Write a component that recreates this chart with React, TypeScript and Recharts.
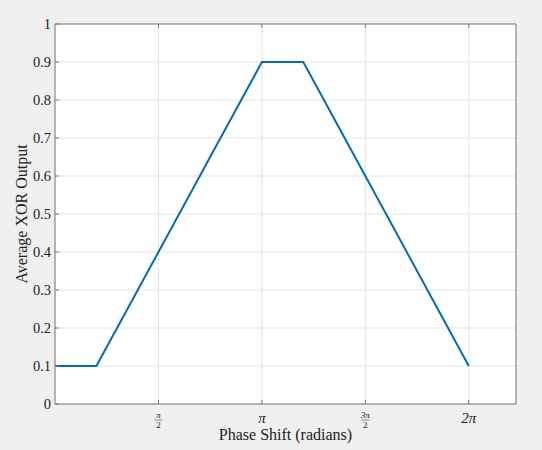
import React from 'react';
import { LineChart, Line, XAxis, YAxis, CartesianGrid } from 'recharts';

// phase shift (radians) and averaged XOR output
const phaseValues = [0, 0.628, 1.257, 1.885, 2.513, 3.142, 3.770, 4.398, 5.027, 5.655, 6.283];
const xorValues = [0.1, 0.1, 0.3, 0.5, 0.7, 0.9, 0.9, 0.7, 0.5, 0.3, 0.1];

const xTicks = [1.5708, 3.1416, 4.7124, 6.2832];
const xTickNum = ['π', 'π', '3π', '2π'];
const xTickDen = ['2', '', '2', ''];
const yTicks = [0, 0.1, 0.2, 0.3, 0.4, 0.5, 0.6, 0.7, 0.8, 0.9, 1];

const data = phaseValues.map((x, i) => ({ x, y: xorValues[i] }));

const FONT = "'Liberation Serif', 'Times New Roman', serif";
const TICK = '#7a7a7a';

const BottomTick = (props: any) => {
    const { x, y, payload } = props;
    const i = xTicks.indexOf(payload.value);
    const num = xTickNum[i];
    const den = xTickDen[i];
    return (
        <g style={{ fontFamily: FONT }}>
            <line x1={x} y1={y} x2={x} y2={y - 4} stroke={TICK} />
            {den ? (
                <g fill="#222">
                    <text x={x} y={y + 14} textAnchor="middle" style={{ fontSize: 9, fontStyle: 'italic' }}>{num}</text>
                    <line x1={x - 4} y1={y + 16} x2={x + 4} y2={y + 16} stroke="#444" strokeWidth={0.6} />
                    <text x={x} y={y + 24} textAnchor="middle" style={{ fontSize: 9 }}>{den}</text>
                </g>
            ) : (
                <text x={x} y={y + 19} textAnchor="middle" fill="#222" style={{ fontSize: 15, fontStyle: 'italic' }}>{num}</text>
            )}
        </g>
    );
};

const TopTick = (props: any) => {
    const { x, y } = props;
    return <line x1={x} y1={y} x2={x} y2={y + 4} stroke={TICK} />;
};

const LeftTick = (props: any) => {
    const { x, y, payload } = props;
    return (
        <g>
            <line x1={x} y1={y} x2={x + 4} y2={y} stroke={TICK} />
            <text x={x - 4} y={y} dy="0.35em" textAnchor="end" fill="#222" style={{ fontSize: 14.5, fontFamily: FONT }}>
                {payload.value}
            </text>
        </g>
    );
};

const RightTick = (props: any) => {
    const { x, y } = props;
    return <line x1={x} y1={y} x2={x - 4} y2={y} stroke={TICK} />;
};

const App: React.FC = () => {
    return (
        <div style={{ position: 'fixed', left: 0, top: 0, width: 542, height: 450, background: '#f0f0f0' }}>
            <LineChart width={542} height={450} data={data} margin={{ top: 14, right: 16, left: 15, bottom: 16 }}>
                <CartesianGrid stroke="#e3e3e3" fill="#ffffff" />
                <XAxis
                    dataKey="x"
                    type="number"
                    domain={[0, 7]}
                    ticks={xTicks}
                    allowDataOverflow
                    height={30}
                    tickSize={0}
                    tickMargin={0}
                    tickLine={false}
                    axisLine={{ stroke: TICK }}
                    tick={<BottomTick />}
                    interval={0}
                />
                <XAxis
                    xAxisId="top"
                    orientation="top"
                    dataKey="x"
                    type="number"
                    domain={[0, 7]}
                    ticks={xTicks}
                    allowDataOverflow
                    height={10}
                    tickSize={0}
                    tickMargin={0}
                    tickLine={false}
                    axisLine={{ stroke: TICK }}
                    tick={<TopTick />}
                    interval={0}
                />
                <YAxis
                    type="number"
                    domain={[0, 1]}
                    ticks={yTicks}
                    width={40}
                    tickSize={0}
                    tickMargin={0}
                    tickLine={false}
                    axisLine={{ stroke: TICK }}
                    tick={<LeftTick />}
                    interval={0}
                />
                <YAxis
                    yAxisId="right"
                    orientation="right"
                    type="number"
                    domain={[0, 1]}
                    ticks={yTicks}
                    width={10}
                    tickSize={0}
                    tickMargin={0}
                    tickLine={false}
                    axisLine={{ stroke: TICK }}
                    tick={<RightTick />}
                    interval={0}
                />
                <Line
                    type="linear"
                    dataKey="y"
                    stroke="#0a6aae"
                    strokeWidth={2}
                    dot={false}
                    isAnimationActive={false}
                />
            </LineChart>
            <div style={{ position: 'absolute', left: 55, width: 461, top: 426, textAlign: 'center', fontFamily: FONT, fontSize: 16, color: '#222' }}>
                Phase Shift (radians)
            </div>
            <div
                style={{
                    position: 'absolute', left: 22, top: 214, transform: 'translate(-50%, -50%) rotate(-90deg)',
                    whiteSpace: 'nowrap', fontFamily: FONT, fontSize: 16, color: '#222'
                }}
            >
                Average XOR Output
            </div>
        </div>
    );
};

export default App;
